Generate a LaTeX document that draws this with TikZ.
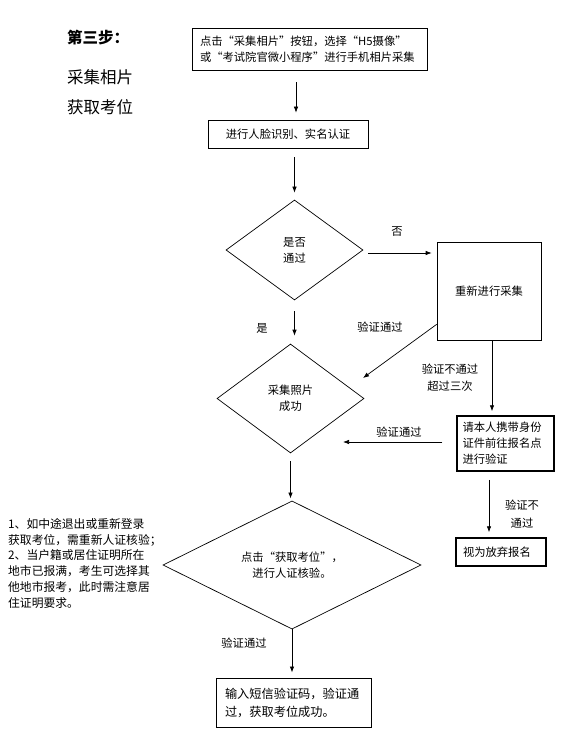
\documentclass[tikz,border=0pt]{standalone}
\usepackage{fontspec}
\usepackage{tikz}
\newfontfamily\cjk{Noto Sans CJK SC}
\usetikzlibrary{arrows.meta}
\usetikzlibrary{shapes.geometric}

\tikzset{
  box/.style={draw, line width=0.7pt, inner sep=0pt, align=left},
  thickbox/.style={box, line width=1.5pt},
  decision/.style={draw, diamond, line width=0.7pt, inner sep=0pt, align=center},
  arr/.style={line width=0.7pt, -{Latex[length=6pt,width=4.5pt]}},
  lbl/.style={inner sep=0pt, align=center},
  heading/.style={inner sep=0pt, anchor=west, font=\cjk\fontsize{16.5}{18}\selectfont}
}

\begin{document}
\begin{tikzpicture}[x=1pt, y=-1pt, every node/.style={font=\cjk\fontsize{11.3}{16}\selectfont}]
        \useasboundingbox (0,0) rectangle (577,751);
        \node[heading, font=\cjk\bfseries\fontsize{15.5}{18}\selectfont] (step) at (67,38) {第三步：};
        \node[heading] (title1) at (67,77) {采集相片};
        \node[heading] (title2) at (67,107) {获取考位};

        \node[box, minimum width=235, minimum height=42, text width=219] (collect) at (309.5,49)
            {点击“采集相片”按钮，选择“H5摄像”\\或“考试院官微小程序”进行手机相片采集};
        \node[box, minimum width=160, minimum height=28, align=center] (face) at (288,134) {进行人脸识别、实名认证};
        \node[decision, minimum width=137, minimum height=100] (pass) at (294.5,250) {是否\\通过};
        \node[box, minimum width=104, minimum height=98, align=center] (retry) at (489,291) {重新进行采集};
        \node[decision, minimum width=147, minimum height=109] (photook) at (290.5,398.5) {采集照片\\成功};
        \node[thickbox, minimum width=97, minimum height=55, text width=86] (onsite) at (505.5,443.5)
            {请本人携带身份\\证件前往报名点\\进行验证};
        \node[thickbox, minimum width=90, minimum height=28, text width=76] (giveup) at (501,552) {视为放弃报名};
        \node[decision, minimum width=258, minimum height=116] (seat) at (292,565) {点击“获取考位”，\\进行人证核验。};
        \node[box, line width=1pt, minimum width=155, minimum height=49, text width=137, font=\cjk\fontsize{12.2}{18}\selectfont] (done) at (293.5,702.5)
            {输入短信验证码，验证通\\过，获取考位成功。};

        \node[inner sep=0pt, anchor=north west, align=left, font=\cjk\fontsize{11.8}{15.8}\selectfont] (note) at (8,518)
            {1、如中途退出或重新登录\\获取考位，需重新人证核验；\\2、当户籍或居住证明所在\\地市已报满，考生可选择其\\他地市报考，此时需注意居\\住证明要求。};

        \node[lbl] (no) at (397,232) {否};
        \node[lbl] (yes) at (262,328) {是};
        \node[lbl] (ok1) at (380,327) {验证通过};
        \node[lbl, font=\cjk\fontsize{11.3}{17}\selectfont] (fail1) at (450,378) {验证不通过\\超过三次};
        \node[lbl] (ok2) at (399,432) {验证通过};
        \node[lbl, font=\cjk\fontsize{11.3}{18}\selectfont] (fail2) at (522,514) {验证不\\通过};
        \node[lbl] (ok3) at (244,643) {验证通过};

        \coordinate (okend) at (363,378);
        \coordinate (backend) at (343,442);

        \draw[arr, shorten <=12pt, shorten >=7pt] ([xshift=8pt]face.north |- collect.south) -- ([xshift=8pt]face.north);
        \draw[arr, shorten <=9pt, shorten >=7pt] (face.south -| pass.north) -- (pass.north);
        \draw[arr, shorten <=5pt, shorten >=5pt] ([yshift=-3pt]pass.east) -- ([yshift=-3pt]pass.east -| retry.west);
        \draw[arr, shorten <=11pt, shorten >=8pt] (pass.south) -- (pass.south |- photook.north);
        \draw[arr] ([yshift=16pt]retry.south west) -- (okend);
        \draw[arr, shorten >=4pt] ([xshift=3pt]retry.south) -- ([xshift=3pt]retry.south |- onsite.north);
        \draw[arr, shorten <=14pt] (onsite.west |- backend) -- (backend);
        \draw[arr, shorten <=8pt, shorten >=2pt] (photook.south) -- (photook.south |- seat.north);
        \draw[arr, shorten <=8pt, shorten >=5pt] ([xshift=-16.5pt]onsite.south) -- ([xshift=-16.5pt]onsite.south |- giveup.north);
        \draw[arr, shorten >=5pt] (seat.south) -- (seat.south |- done.north);
    \end{tikzpicture}
\end{document}
